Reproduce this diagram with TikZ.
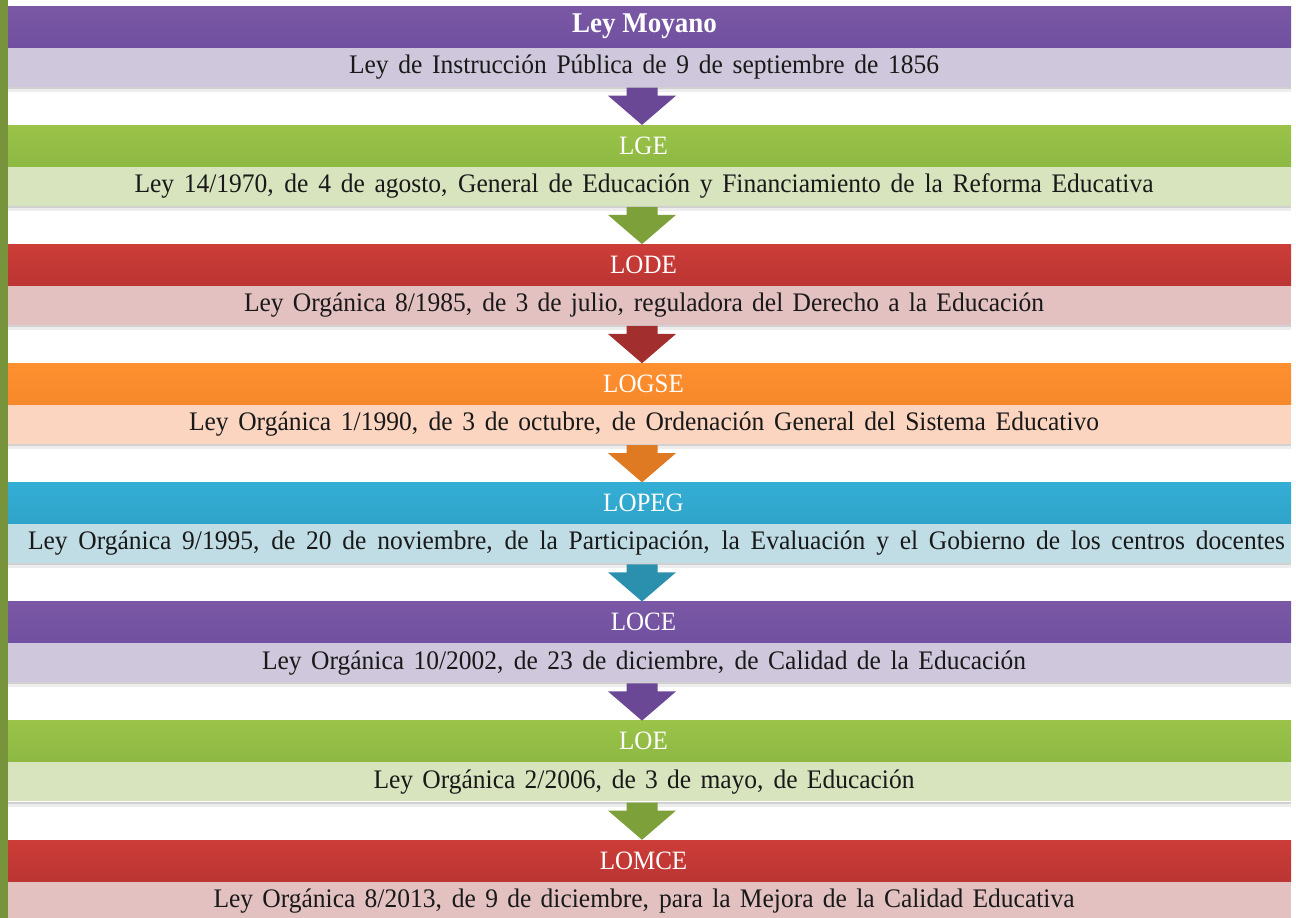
\documentclass[tikz,border=0pt]{standalone}
\usepackage{graphicx}
\usepackage{fontspec}
\setmainfont{Liberation Serif}
\usetikzlibrary{calc}
\definecolor{strip}{HTML}{77933C}
\definecolor{pH}{HTML}{7A58A5}\definecolor{pHd}{HTML}{7050A0}\definecolor{pS}{HTML}{CFC7DB}\definecolor{pA}{HTML}{6B4896}
\definecolor{gH}{HTML}{9BC34A}\definecolor{gHd}{HTML}{8DB842}\definecolor{gS}{HTML}{D7E4BD}\definecolor{gA}{HTML}{7EA03A}
\definecolor{rH}{HTML}{CC3D38}\definecolor{rHd}{HTML}{BB3533}\definecolor{rS}{HTML}{E3C1C1}\definecolor{rA}{HTML}{A32E2E}
\definecolor{oH}{HTML}{FF9030}\definecolor{oHd}{HTML}{F5882A}\definecolor{oS}{HTML}{FBD5C0}\definecolor{oA}{HTML}{E07A22}
\definecolor{bH}{HTML}{34AED5}\definecolor{bHd}{HTML}{2FA3C9}\definecolor{bS}{HTML}{C0DDE6}\definecolor{bA}{HTML}{2A90AE}
\tikzset{
  hdr/.style={minimum width=1283pt, minimum height=41pt, inner sep=0pt, text=white, font=\fontsize{25}{25}\selectfont},
  sub/.style={minimum width=1283pt, minimum height=39pt, inner sep=0pt, text=black!90, font=\fontsize{25.5}{25.5}\selectfont},
}
% #1 id, #2 top y, #3 header colour, #4 sub colour, #5 header text, #6 sub text width, #7 sub text, #8 trailing space
\newcommand{\lawblock}[8]{%
  \node[sub, fill=#4] (s#1) at (649.5,#2+61) {\scalebox{1}[1.05]{\makebox[#6pt][s]{#7}}\hspace*{#8pt}};
  \node[hdr, top color=#3, bottom color=#3d] (h#1) at (649.5,#2+20.5) {\scalebox{1}[1.06]{#5}\hspace*{12pt}};}
\newcommand{\blockarrow}[3]{%
  \fill[#3] ($(#1.south)+(-23,1)$) -- ($(#1.south)+(8,1)$) -- ($(#1.south)+(8,9)$) -- ($(#1.south)+(26.5,9)$) -- ($(#2.north)+(-7.5,0)$) -- ($(#1.south)+(-41.5,9)$) -- ($(#1.south)+(-23,9)$) -- cycle;}
\newcommand{\subshadow}[1]{%
  \fill[black!7] (#1.south west) rectangle ($(#1.south east)+(0,5)$);
  \fill[black!18] (#1.south west) rectangle ($(#1.south east)+(0,2)$);}
\begin{document}
\begin{tikzpicture}[x=1pt,y=-1pt]
\useasboundingbox (0,0) rectangle (1296,918);
\fill[strip] (0,0) rectangle (8,918);
\lawblock{0}{6}{pH}{pS}{\fontsize{27}{27}\selectfont\textbf{Ley Moyano}\hspace*{-2pt}}{590}{Ley de Instrucción Pública de 9 de septiembre de 1856}{11}
\lawblock{1}{125.14}{gH}{gS}{LGE}{1019}{Ley 14/1970, de 4 de agosto, General de Educación y Financiamiento de la Reforma Educativa}{11}
\lawblock{2}{244.28}{rH}{rS}{LODE}{800}{Ley Orgánica 8/1985, de 3 de julio, reguladora del Derecho a la Educación}{11}
\lawblock{3}{363.42}{oH}{oS}{LOGSE}{910}{Ley Orgánica 1/1990, de 3 de octubre, de Ordenación General del Sistema Educativo}{11}
\lawblock{4}{482.56}{bH}{bS}{LOPEG}{1257}{Ley Orgánica 9/1995, de 20 de noviembre, de la Participación, la Evaluación y el Gobierno de los centros docentes}{-14}
\lawblock{5}{601.7}{pH}{pS}{LOCE}{764}{Ley Orgánica 10/2002, de 23 de diciembre, de Calidad de la Educación}{11}
\lawblock{6}{720.84}{gH}{gS}{LOE}{541}{Ley Orgánica 2/2006, de 3 de mayo, de Educación}{11}
\lawblock{7}{840}{rH}{rS}{LOMCE}{861}{Ley Orgánica 8/2013, de 9 de diciembre, para la Mejora de la Calidad Educativa}{11}
\subshadow{s0}\subshadow{s1}\subshadow{s2}\subshadow{s3}\subshadow{s4}\subshadow{s5}\subshadow{s6}
\blockarrow{s0}{h1}{pA}
\blockarrow{s1}{h2}{gA}
\blockarrow{s2}{h3}{rA}
\blockarrow{s3}{h4}{oA}
\blockarrow{s4}{h5}{bA}
\blockarrow{s5}{h6}{pA}
\blockarrow{s6}{h7}{gA}
\end{tikzpicture}
\end{document}
